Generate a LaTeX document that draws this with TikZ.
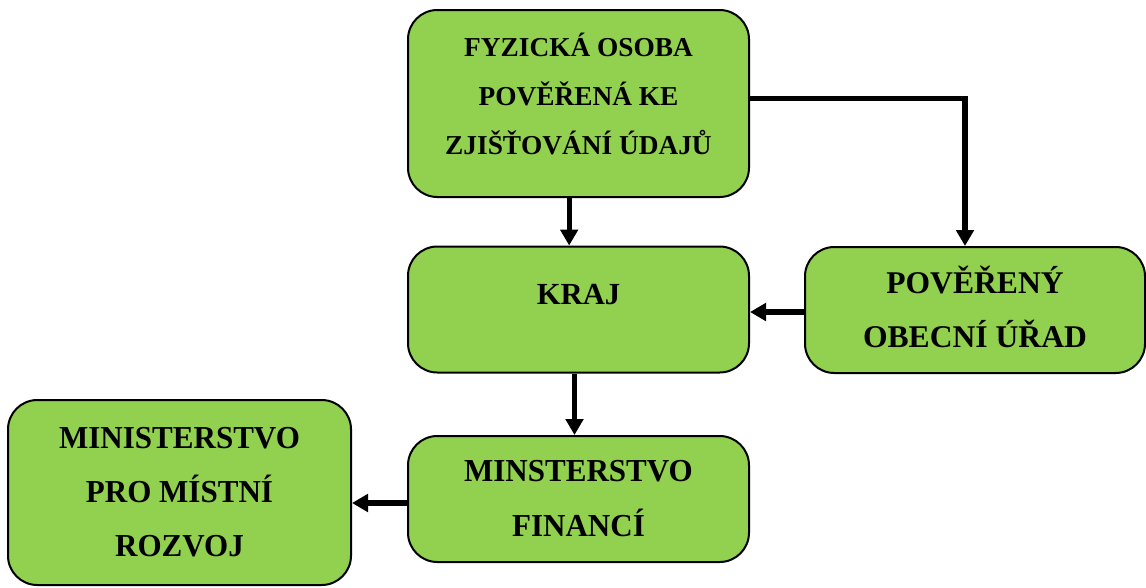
\documentclass[tikz,border=0pt]{standalone}
\usepackage{fontspec}
\setmainfont{Liberation Serif}
\newfontfamily\narrowserif[FakeStretch=0.97]{Liberation Serif}
\usetikzlibrary{arrows.meta,positioning}
\definecolor{boxgreen}{HTML}{92D050}

\begin{document}
\begin{tikzpicture}[x=0.75pt,y=-0.75pt]
    % Define styles for nodes and arrows
    \tikzstyle{box} = [rectangle, rounded corners=22pt, draw=black, line width=1.5pt, fill=boxgreen, text centered, align=center, inner sep=0pt, minimum width=255.75pt, minimum height=94.5pt]
    \tikzstyle{bigbox} = [box, minimum height=140.25pt]
    \tikzstyle{arrow} = [line width=3.8pt, -{Triangle[length=12pt,width=13pt]}]
    \useasboundingbox (0,0) rectangle (1146,587);
    % Nodes
    \node (person) [bigbox, font=\bfseries\fontsize{20.5}{36.75}\selectfont] at (578.5,103.5) {FYZICKÁ OSOBA\\POVĚŘENÁ KE\\ZJIŠŤOVÁNÍ ÚDAJŮ\rule[-14pt]{0pt}{14pt}};
    \node (kraj) [box, font=\bfseries\fontsize{23}{41}\selectfont] at (578.5,309.5) {KRAJ\rule[-22pt]{0pt}{22pt}};
    \node (urad) [box, minimum width=255pt, font=\bfseries\fontsize{23.7}{41}\selectfont] at (975,310) {POVĚŘENÝ\\OBECNÍ ÚŘAD\rule[-5pt]{0pt}{5pt}};
    \node (finance) [box, font=\narrowserif\bfseries\fontsize{24}{41.25}\selectfont] at (578.5,499) {MINSTERSTVO\\FINANCÍ};
    \node (mmr) [bigbox, minimum width=257.25pt, minimum height=138.75pt, font=\narrowserif\bfseries\fontsize{24}{40.5}\selectfont] at (179.5,492.5) {MINISTERSTVO\\PRO MÍSTNÍ\\ROZVOJ};
    % Arrows
    \draw [arrow] ([xshift=-7pt]person.south) -- ([xshift=-7pt]kraj.north);
    \draw [arrow] ([yshift=4pt]person.east) -| ([xshift=-7.5pt]urad.north);
    \draw [arrow] ([yshift=-1.5pt]urad.west) -- ([yshift=-1.5pt]urad.west -| kraj.east);
    \draw [arrow] ([xshift=-3pt]kraj.south) -- ([xshift=-3pt]finance.north);
    \draw [arrow] ([yshift=-3pt]finance.west) -- ([yshift=-3pt]finance.west -| mmr.east);
\end{tikzpicture}
\end{document}
